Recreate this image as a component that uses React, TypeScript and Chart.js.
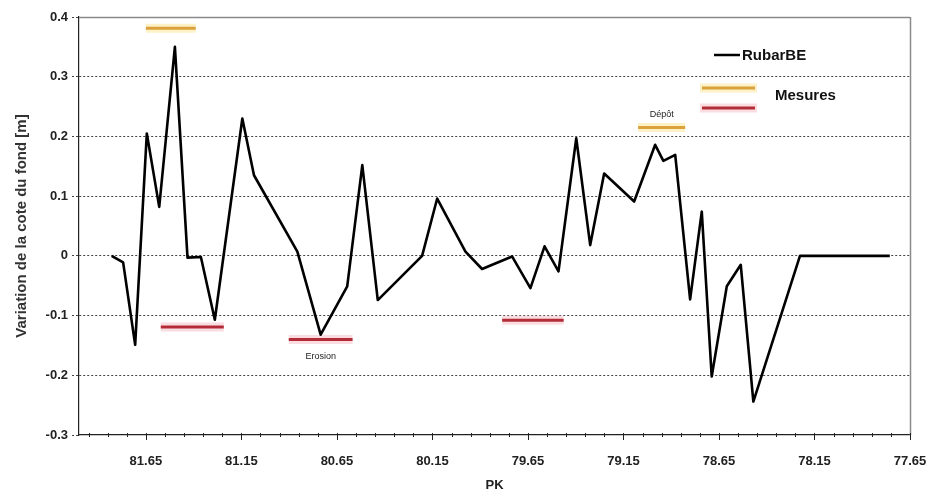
import { useEffect, useRef } from 'react';
import { Chart, registerables } from 'chart.js';

Chart.register(...registerables);

// ---- Data ----
const pk = [
  81.829, 81.769, 81.706, 81.645, 81.58, 81.498, 81.432, 81.362, 81.289, 81.145,
  81.084, 80.857, 80.735, 80.596, 80.517, 80.436, 80.204, 80.125, 79.977, 79.89,
  79.733, 79.637, 79.563, 79.49, 79.397, 79.324, 79.251, 79.094, 78.984, 78.941,
  78.879, 78.801, 78.74, 78.688, 78.609, 78.536, 78.47, 78.226, 77.756,
];
const rubarBE = [
  0, -0.011, -0.149, 0.205, 0.082, 0.35, -0.003, -0.002, -0.107, 0.23,
  0.135, 0.007, -0.132, -0.051, 0.152, -0.074, 0, 0.096, 0.007, -0.022,
  -0.001, -0.054, 0.016, -0.026, 0.197, 0.018, 0.138, 0.091, 0.186, 0.159,
  0.169, -0.073, 0.074, -0.202, -0.051, -0.015, -0.244, 0, 0,
];

// Mesures: dépôt (orange) and érosion (red) segments
const depotStart = [81.65, 79.073];
const depotEnd = [81.389, 78.827];
const depotValue = [0.381, 0.215];
const erosionStart = [81.572, 80.902, 79.785];
const erosionEnd = [81.242, 80.568, 79.463];
const erosionValue = [-0.119, -0.14, -0.108];

// Text labels placed at data positions
const noteText = ['Erosion', 'Dépôt'];
const notePk = [80.735, 78.95];
const noteValue = [-0.14, 0.215];
const noteSide = ['below', 'above'];

const xTickValues = [81.65, 81.15, 80.65, 80.15, 79.65, 79.15, 78.65, 78.15, 77.65];
const xMin = 77.65;
const xMax = 82.0;
const yMin = -0.3;
const yMax = 0.4;

const legendLabels = ['RubarBE', 'Mesures'];

const ORANGE = '#DBA23C';
const RED = '#B32D38';
const ORANGE_HALO = 'rgba(252, 236, 180, 0.75)';
const RED_HALO = 'rgba(248, 210, 214, 0.75)';
const FONT = "'Liberation Sans', Arial, sans-serif";

function segments(starts: number[], ends: number[], vals: number[]) {
  const out: { x: number; y: number | null }[] = [];
  starts.forEach((s, i) => {
    out.push({ x: s, y: vals[i] });
    out.push({ x: ends[i], y: vals[i] });
    out.push({ x: ends[i], y: null });
  });
  return out;
}

const overlay = {
  id: 'overlay',
  beforeDatasetsDraw(chart: any) {
    const { ctx, chartArea } = chart;
    ctx.save();
    ctx.strokeStyle = '#8a8a8a';
    ctx.lineWidth = 1.5;
    ctx.beginPath();
    ctx.moveTo(chartArea.left, chartArea.top + 0.5);
    ctx.lineTo(chartArea.right, chartArea.top + 0.5);
    ctx.moveTo(chartArea.right + 0.5, chartArea.top);
    ctx.lineTo(chartArea.right + 0.5, chartArea.bottom);
    ctx.stroke();
    ctx.restore();
  },
  afterDraw(chart: any) {
    const { ctx, chartArea } = chart;
    const xs = chart.scales.x;
    const ys = chart.scales.y;
    ctx.save();
    // x axis tick marks (minor every 0.1, major every 0.5)
    ctx.strokeStyle = '#222';
    ctx.lineWidth = 1;
    const yAxis = chartArea.bottom;
    for (let k = 0; ; k++) {
      const v = xMin + k * 0.1;
      if (v > xMax + 1e-9) break;
      const px = Math.round(xs.getPixelForValue(v)) + 0.5;
      const major = k % 5 === 0;
      ctx.beginPath();
      ctx.moveTo(px, yAxis - 2);
      ctx.lineTo(px, yAxis + (major ? 5 : 2));
      ctx.stroke();
    }
    // notes
    ctx.fillStyle = '#222';
    ctx.font = `9px ${FONT}`;
    ctx.textAlign = 'center';
    noteText.forEach((t, i) => {
      const px = xs.getPixelForValue(notePk[i]);
      const py = ys.getPixelForValue(noteValue[i]);
      ctx.textBaseline = 'middle';
      ctx.fillText(t, px, noteSide[i] === 'below' ? py + 17 : py - 13);
    });
    // legend
    const line = (x1: number, x2: number, y: number, color: string, w: number, halo?: string) => {
      if (halo) {
        ctx.strokeStyle = halo;
        ctx.lineWidth = w + 6;
        ctx.beginPath();
        ctx.moveTo(x1 - 2, y);
        ctx.lineTo(x2 + 2, y);
        ctx.stroke();
      }
      ctx.strokeStyle = color;
      ctx.lineWidth = w;
      ctx.beginPath();
      ctx.moveTo(x1, y);
      ctx.lineTo(x2, y);
      ctx.stroke();
    };
    line(714, 740, 55, '#000', 2.5);
    line(702, 755, 88, ORANGE, 3, ORANGE_HALO);
    line(702, 755, 108, RED, 3, RED_HALO);
    ctx.fillStyle = '#111';
    ctx.font = `bold 15px ${FONT}`;
    ctx.textAlign = 'left';
    ctx.textBaseline = 'middle';
    ctx.fillText(legendLabels[0], 742, 56);
    ctx.fillText(legendLabels[1], 775, 96);
    ctx.restore();
  },
};

export default function App() {
  const ref = useRef<HTMLCanvasElement>(null);

  useEffect(() => {
    if (!ref.current) return;
    const rubarData = pk.map((x, i) => ({ x, y: rubarBE[i] }));
    const depotData = segments(depotStart, depotEnd, depotValue);
    const erosionData = segments(erosionStart, erosionEnd, erosionValue);

    const chart = new Chart(ref.current, {
      type: 'line',
      data: {
        datasets: [
          { label: 'halo-d', data: depotData, borderColor: ORANGE_HALO, borderWidth: 9, pointRadius: 0, spanGaps: false, order: 5 },
          { label: 'halo-e', data: erosionData, borderColor: RED_HALO, borderWidth: 9, pointRadius: 0, spanGaps: false, order: 5 },
          { label: 'Mesures dépôt', data: depotData, borderColor: ORANGE, borderWidth: 3, pointRadius: 0, spanGaps: false, order: 2 },
          { label: 'Mesures érosion', data: erosionData, borderColor: RED, borderWidth: 3, pointRadius: 0, spanGaps: false, order: 2 },
          { label: 'RubarBE', data: rubarData, borderColor: '#000', borderWidth: 2.6, borderJoinStyle: 'round', pointRadius: 0, tension: 0, order: 1 },
        ],
      },
      options: {
        animation: false,
        responsive: true,
        maintainAspectRatio: false,
        layout: { padding: { top: 17, right: 21, left: 0, bottom: 0 } },
        plugins: { legend: { display: false }, tooltip: { enabled: false } },
        scales: {
          x: {
            type: 'linear',
            reverse: true,
            min: xMin,
            max: xMax,
            afterBuildTicks: (scale: any) => {
              scale.ticks = xTickValues.map((v) => ({ value: v }));
            },
            afterFit: (scale: any) => {
              scale.height = 59;
              scale.paddingLeft = 0;
              scale.paddingRight = 0;
            },
            ticks: {
              autoSkip: false,
              maxRotation: 0,
              padding: 19,
              color: '#222',
              font: { family: FONT, size: 13, weight: 'bold' },
              callback: (v: any) => Number(v).toFixed(2),
            },
            grid: { display: false, drawTicks: false, tickLength: 0 },
            border: { display: true, color: '#222', width: 1.2 },
            title: {
              display: true,
              text: 'PK',
              color: '#222',
              font: { family: FONT, size: 13, weight: 'bold' },
              padding: { top: 0, bottom: 1 },
            },
          },
          y: {
            type: 'linear',
            min: yMin,
            max: yMax,
            afterFit: (scale: any) => {
              scale.width = 79;
            },
            ticks: {
              stepSize: 0.1,
              padding: 4,
              color: '#222',
              font: { family: FONT, size: 13, weight: 'bold' },
              callback: (v: any) => String(Math.round(Number(v) * 10) / 10),
            },
            grid: {
              color: (c: any) => {
                const v = c.tick ? c.tick.value : 0;
                return Math.abs(v - yMax) < 1e-6 || Math.abs(v - yMin) < 1e-6 ? 'rgba(0,0,0,0)' : '#444';
              },
              tickColor: '#444',
              tickLength: 7,
              tickBorderDash: [2, 2],
              lineWidth: 1,
            },
            border: { display: true, color: '#222', width: 1.2, dash: [2, 2] },
            title: {
              display: true,
              text: 'Variation de la cote du fond [m]',
              color: '#333',
              font: { family: FONT, size: 15, weight: 'bold' },
              padding: { top: 13, bottom: 0 },
            },
          },
        },
      },
      plugins: [overlay],
    } as any);
    return () => chart.destroy();
  }, []);

  return (
    <div style={{ position: 'fixed', left: 0, top: 0, width: 931, height: 494, background: '#fff' }}>
      <canvas ref={ref} />
    </div>
  );
}
